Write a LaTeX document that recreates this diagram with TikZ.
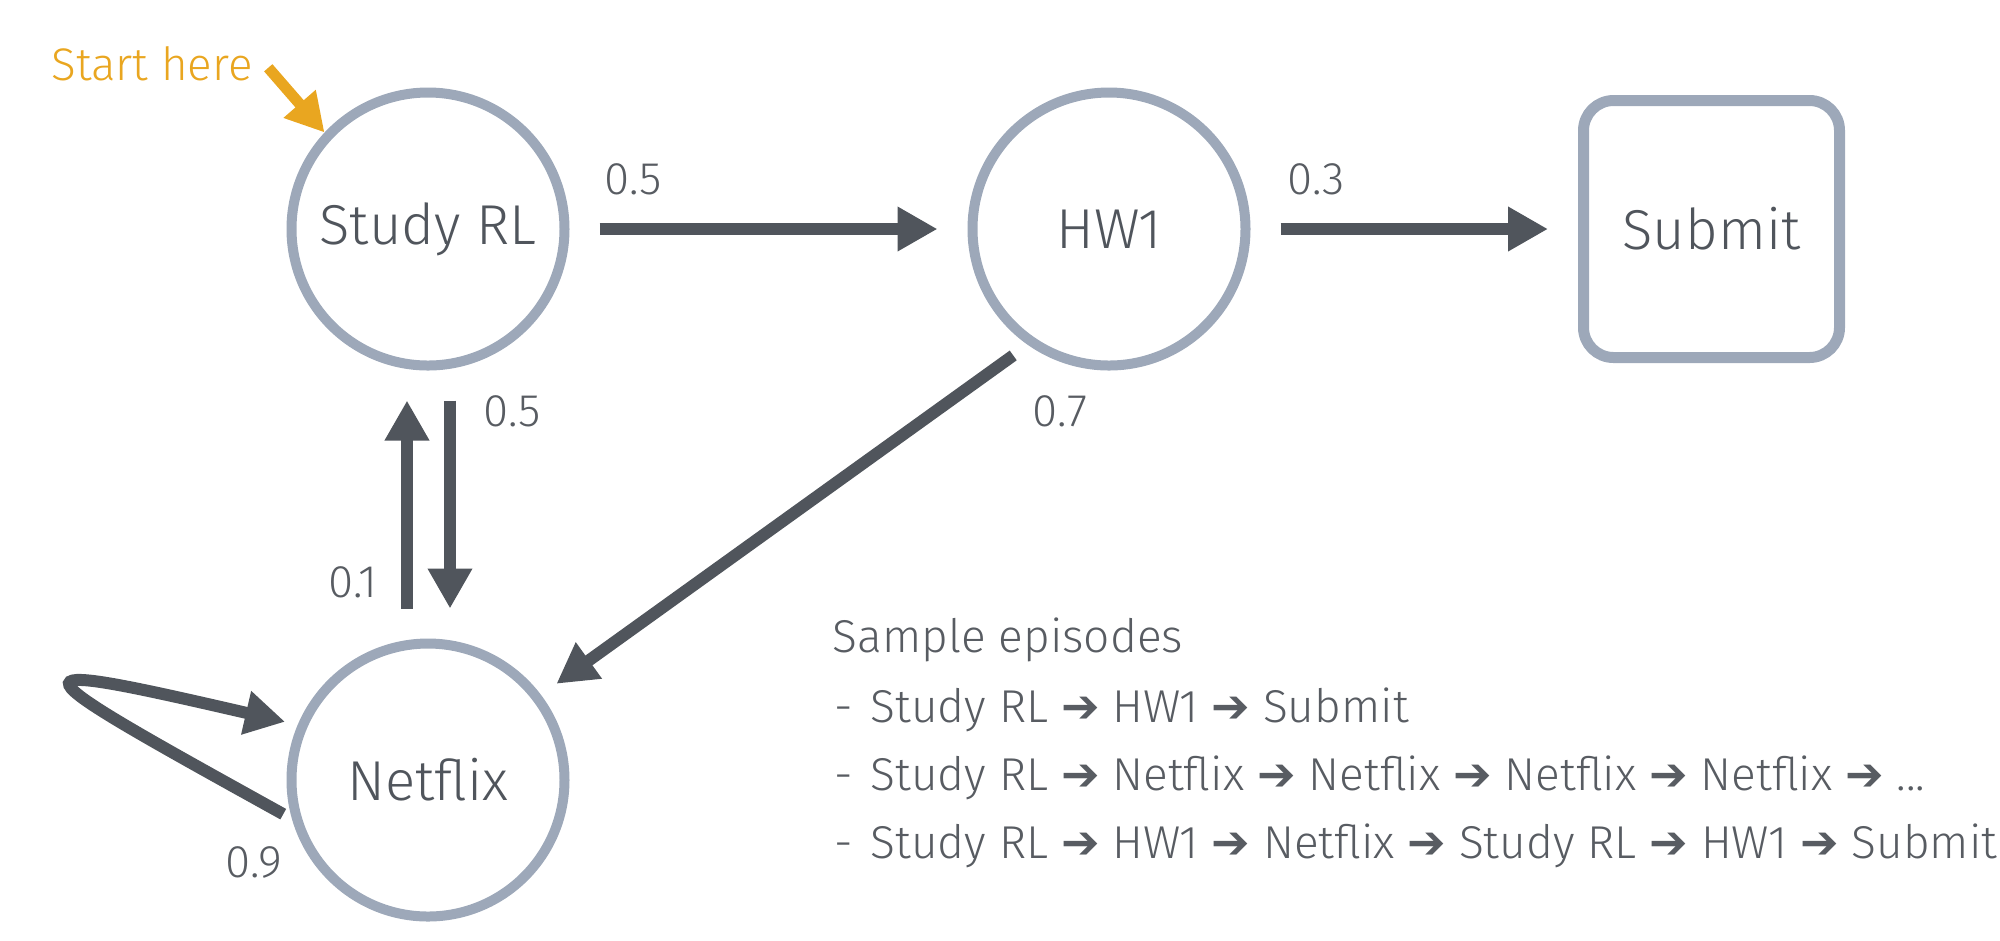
\documentclass[tikz,border=0pt]{standalone}
\usepackage{fontspec}
\IfFontExistsTF{FiraSans-Light.otf}{\setmainfont{FiraSans-Light.otf}}{%
  \IfFontExistsTF{Fira Sans Light}{\setmainfont{Fira Sans Light}}{%
    \IfFontExistsTF{Lato Light}{\setmainfont{Lato Light}}{\setmainfont{Fira Sans}}}}
\newfontfamily\arrowfont{DejaVu Sans}
\usepackage{tikz}
\usetikzlibrary{arrows.meta, calc}
\definecolor{myslate}{RGB}{157,168,185}
\definecolor{mydark}{RGB}{80,85,92}
\definecolor{mytext}{RGB}{88,92,98}
\definecolor{myorange}{RGB}{233,166,32}
\newcommand{\nxt}{ {\arrowfont\symbol{"2794}} }
\tikzset{
  state/.style={circle, draw=myslate, line width=1mm, minimum size=2.73cm,
    inner sep=0pt, font=\fontsize{16}{19}\selectfont, text=mydark},
  endstate/.style={rectangle, draw=myslate, line width=1.1mm,
    minimum width=2.56cm, minimum height=2.57cm, rounded corners=3mm,
    inner sep=0pt, font=\fontsize{16}{19}\selectfont, text=mydark},
  arrow/.style={-{Triangle[length=4mm, width=4.2mm]}, line width=1.2mm,
    color=mydark, shorten <=3mm, shorten >=3mm},
  startarrow/.style={-{Triangle[length=3.8mm, width=4mm]}, line width=1.1mm,
    color=myorange},
  prob/.style={font=\fontsize{13}{16}\selectfont, text=mytext},
  eptext/.style={anchor=base west, inner sep=0pt,
    font=\fontsize{13.1}{16}\selectfont, text=mytext}
}

\begin{document}
\begin{tikzpicture}
  \useasboundingbox (0,0) rectangle (20,-9.4);
  % States
  \node[state] (SR) at (4.28,-2.29) {Study RL};
  \node[state] (HW) at (11.09,-2.29) {HW1};
  \node[state] (NF) at (4.28,-7.80) {Netflix};
  \node[endstate] (SB) at (17.115,-2.29) {Submit};
  % Start marker
  \node[prob, text=myorange] (start) at (1.52,-0.64) {Start here};
  \draw[startarrow, shorten <=0.5mm] (start.east) -- (SR.137);
  % Transitions
  \draw[arrow] (SR) -- (HW);
  \draw[arrow] (HW) -- (SB);
  \draw[arrow] ([xshift=2.2mm]SR.south) -- ([xshift=2.2mm]NF.north);
  \draw[arrow] ([xshift=-2.1mm]NF.north) -- ([xshift=-2.1mm]SR.south);
  \draw[arrow, shorten <=1.8mm, shorten >=1.9mm] (HW.235) -- (NF.37);
  \draw[arrow, shorten <=1mm, shorten >=1.3mm] (NF.196)
    .. controls +(151:3.2) and +(167:3.1) .. (NF.157);
  % Probabilities
  \node[prob] (p1) at (6.33,-1.79) {0.5};
  \node[prob] (p2) at (13.16,-1.79) {0.3};
  \node[prob] (p3) at (5.12,-4.11) {0.5};
  \node[prob] (p4) at (10.60,-4.11) {0.7};
  \node[prob] (p5) at (3.53,-5.82) {0.1};
  \node[prob] (p6) at (2.54,-8.62) {0.9};
  % Sample episodes
  \node[eptext] (ep0) at (8.32,-6.52) {Sample episodes};
  \node[eptext] (ep1) at (8.34,-7.22)
    {\makebox[0.36cm][l]{-}Study RL\nxt HW1\nxt Submit};
  \node[eptext] (ep2) at (8.34,-7.90)
    {\makebox[0.36cm][l]{-}Study RL\nxt Netflix\nxt Netflix\nxt Netflix\nxt Netflix\nxt ...};
  \node[eptext] (ep3) at (8.34,-8.58)
    {\makebox[0.36cm][l]{-}Study RL\nxt HW1\nxt Netflix\nxt Study RL\nxt HW1\nxt Submit};
\end{tikzpicture}
\end{document}
